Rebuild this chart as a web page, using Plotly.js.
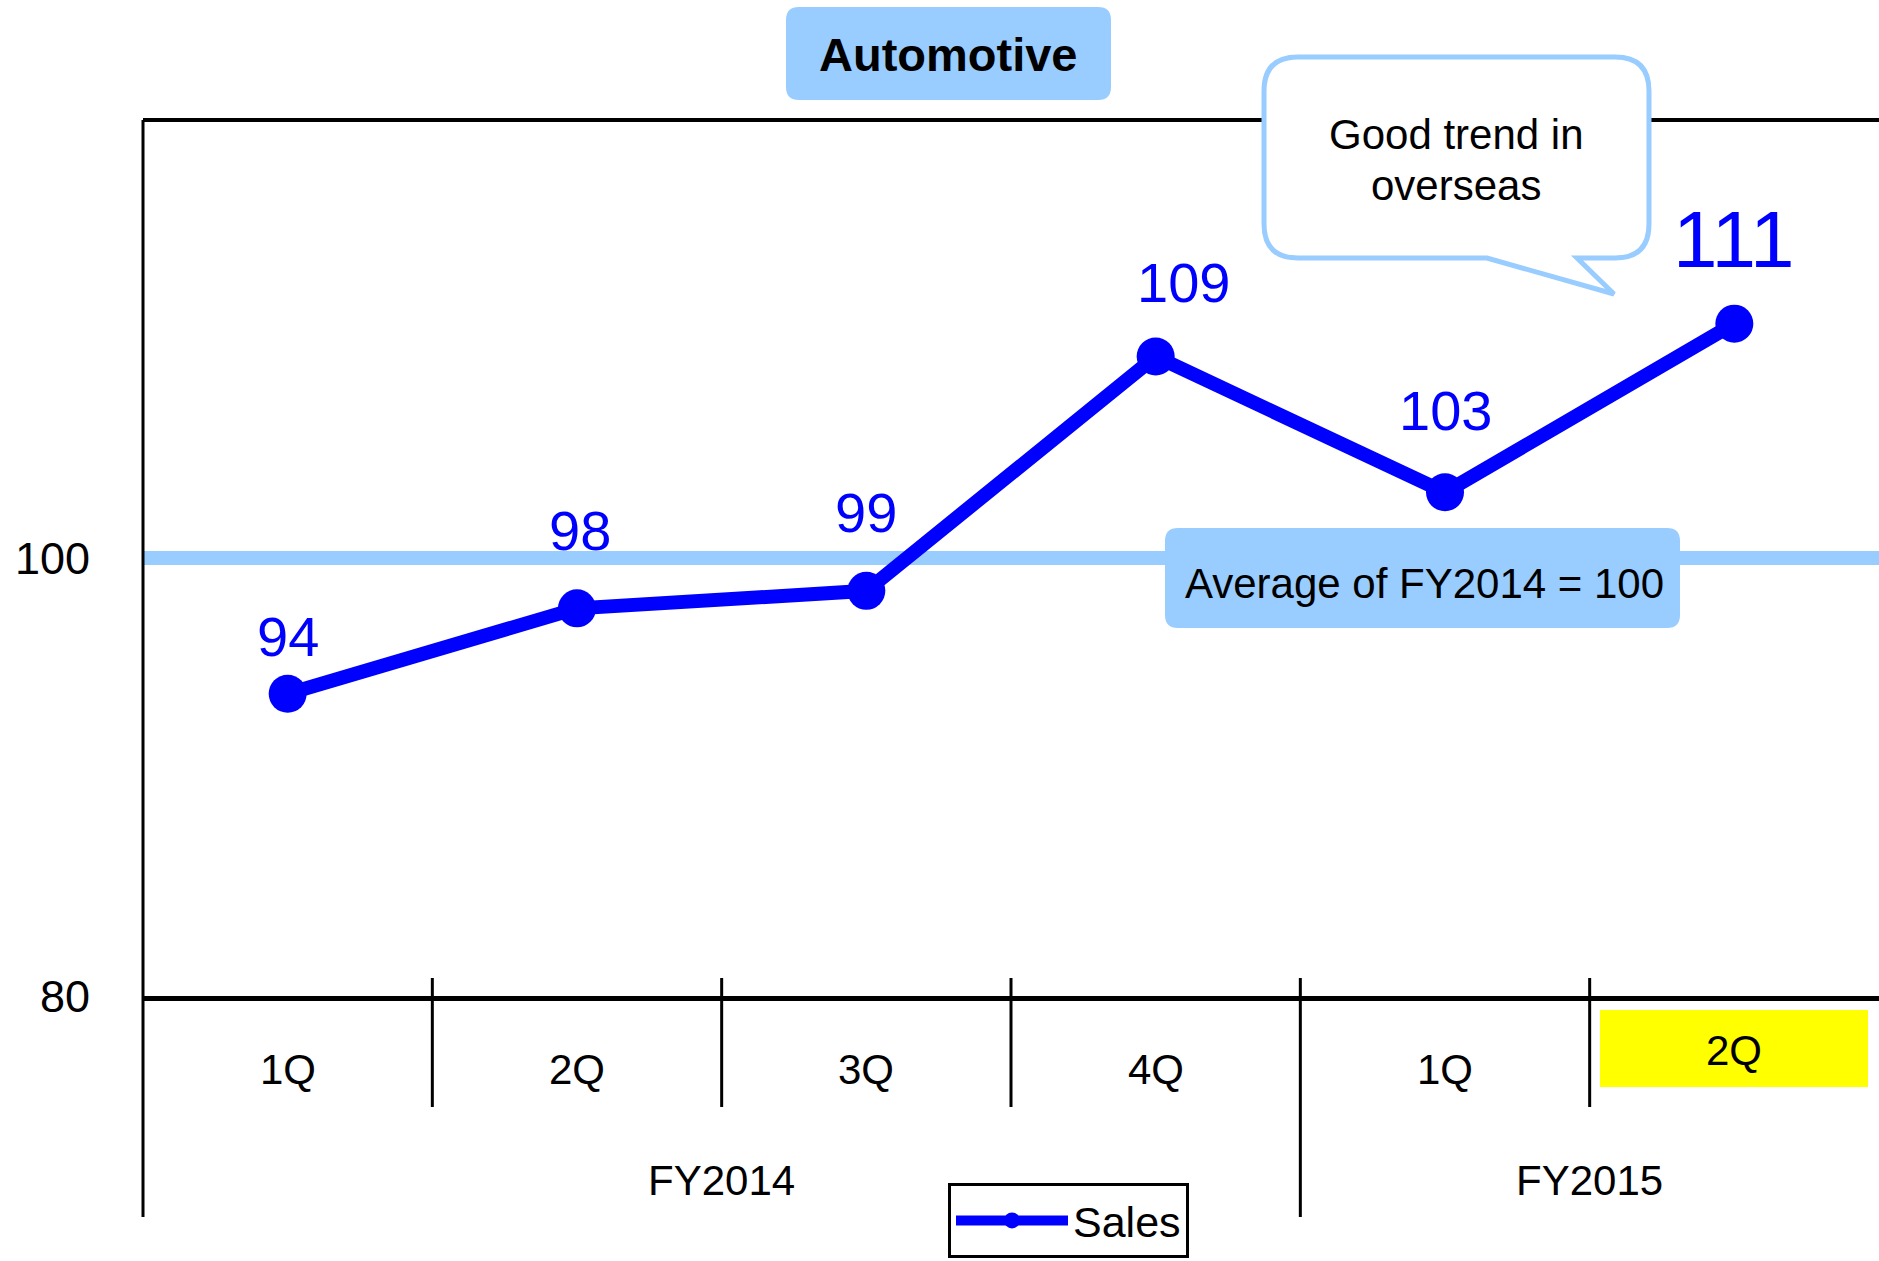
<!DOCTYPE html>
<html>
<head>
<meta charset="utf-8">
<script src="https://cdn.plot.ly/plotly-3.0.1.min.js"></script>
<style>
  html, body { margin: 0; padding: 0; background: #fff; }
  #chart { width: 1879px; height: 1261px; }
</style>
</head>
<body>
<div id="chart"></div>
<script>
const quarters = ['1Q', '2Q', '3Q', '4Q', '1Q', '2Q'];
const fiscalYears = ['FY2014', 'FY2015'];
const yearFirstQuarter = [0, 4];
const yearLastQuarter = [3, 5];
const sales = [93.8, 97.7, 98.5, 109.2, 103.0, 110.7];
const salesLabels = ['94', '98', '99', '109', '103', '111'];
const baseline = 100;
const highlightIndex = 5;
const yTicks = [80, 100];

const W = 1879, H = 1261;
const M = { l: 143, r: 0, t: 120, b: 265 };
const PW = W - M.l - M.r;
const PH = H - M.t - M.b;
const FONT = 'Liberation Sans, Arial, sans-serif';
const LIGHT = '#99ccff';
const BLUE = '#0000ff';

// label nudges in px (style only)
const labelLift = [57, 78, 78, 74, 82, 84];
const labelSide = [0, 3, 0, 28, 0, 0];

// pixel -> paper helpers
function px(X) { return (X - M.l) / PW; }
function py(Y) { return (M.t + PH - Y) / PH; }
function pt(X, Y) { return px(X).toFixed(5) + ',' + py(Y).toFixed(5); }

function roundRect(x0, y0, x1, y1, r) {
    return 'M' + pt(x0 + r, y0) + ' L' + pt(x1 - r, y0) + ' Q' + pt(x1, y0) + ' ' + pt(x1, y0 + r) +
        ' L' + pt(x1, y1 - r) + ' Q' + pt(x1, y1) + ' ' + pt(x1 - r, y1) +
        ' L' + pt(x0 + r, y1) + ' Q' + pt(x0, y1) + ' ' + pt(x0, y1 - r) +
        ' L' + pt(x0, y0 + r) + ' Q' + pt(x0, y0) + ' ' + pt(x0 + r, y0) + ' Z';
}

function bubble(x0, y0, x1, y1, r, tailR, tipX, tipY, tailL) {
    return 'M' + pt(x0 + r, y0) + ' L' + pt(x1 - r, y0) + ' Q' + pt(x1, y0) + ' ' + pt(x1, y0 + r) +
        ' L' + pt(x1, y1 - r) + ' Q' + pt(x1, y1) + ' ' + pt(x1 - r, y1) +
        ' L' + pt(tailR, y1) + ' L' + pt(tipX, tipY) + ' L' + pt(tailL, y1) +
        ' L' + pt(x0 + r, y1) + ' Q' + pt(x0, y1) + ' ' + pt(x0, y1 - r) +
        ' L' + pt(x0, y0 + r) + ' Q' + pt(x0, y0) + ' ' + pt(x0 + r, y0) + ' Z';
}

function label(X, Y, text, size, extra) {
    return Object.assign({ xref: 'paper', yref: 'paper', x: px(X), y: py(Y), text: text, showarrow: false,
        xanchor: 'center', yanchor: 'middle', font: { family: FONT, size: size, color: 'black' } }, extra || {});
}

const xIdx = quarters.map((_, i) => i);

const trace = {
    x: xIdx,
    y: sales,
    mode: 'lines+markers',
    name: 'Sales',
    line: { color: BLUE, width: 14 },
    marker: { color: BLUE, size: 38 },
    cliponaxis: false,
    hoverinfo: 'skip'
};

const shapes = [];

// average line + its label box
shapes.push({ type: 'line', layer: 'below', xref: 'paper', yref: 'y', x0: 0, x1: 1, y0: baseline, y1: baseline,
    line: { color: LIGHT, width: 14 } });
shapes.push({ type: 'path', layer: 'below', xref: 'paper', yref: 'paper', path: roundRect(1165, 528, 1680, 628, 13),
    fillcolor: LIGHT, line: { width: 0 } });

// frame
shapes.push({ type: 'line', xref: 'paper', yref: 'paper', x0: 0, x1: 1, y0: 1, y1: 1, line: { color: 'black', width: 4 } });
shapes.push({ type: 'line', xref: 'paper', yref: 'paper', x0: 0, x1: 0, y0: 1, y1: py(1217), line: { color: 'black', width: 3 } });

// category dividers
for (let i = 0; i < quarters.length - 1; i++) {
    const groupEdge = yearLastQuarter.indexOf(i) !== -1;
    shapes.push({ type: 'line', xref: 'x', yref: 'paper', x0: i + 0.5, x1: i + 0.5,
        y0: py(978), y1: groupEdge ? py(1217) : py(1107), line: { color: 'black', width: 3 } });
}

// highlighted quarter
shapes.push({ type: 'rect', xref: 'paper', yref: 'paper', x0: px(1600), x1: px(1868), y0: py(1010), y1: py(1087),
    fillcolor: '#ffff00', line: { width: 0 } });

// title box
shapes.push({ type: 'path', xref: 'paper', yref: 'paper', path: roundRect(786, 7, 1111, 100, 13),
    fillcolor: LIGHT, line: { width: 0 } });

// callout bubble
shapes.push({ type: 'path', xref: 'paper', yref: 'paper',
    path: bubble(1264, 57, 1649, 258, 34, 1577, 1614, 294, 1487),
    fillcolor: 'white', line: { color: LIGHT, width: 5 } });

const annotations = [];

annotations.push(label(948, 55, '<b>Automotive</b>', 47));
annotations.push(label(1456, 134, 'Good trend in', 42));
annotations.push(label(1456, 185, 'overseas', 42));
annotations.push(label(1424, 583, 'Average of FY2014 = ' + baseline, 42));

// data labels
sales.forEach((v, i) => {
    const big = i === sales.length - 1;
    annotations.push({ xref: 'x', yref: 'y', x: i, y: v, text: salesLabels[i], showarrow: false,
        xanchor: 'center', yanchor: 'middle', yshift: labelLift[i], xshift: labelSide[i],
        font: { family: FONT, size: big ? 80 : 56, color: BLUE } });
});

// quarter labels
quarters.forEach((q, i) => {
    annotations.push({ xref: 'x', yref: 'paper', x: i, y: py(i === highlightIndex ? 1050 : 1069), text: q, showarrow: false,
        xanchor: 'center', yanchor: 'middle', font: { family: FONT, size: 42, color: 'black' } });
});

// fiscal year labels
fiscalYears.forEach((fy, k) => {
    annotations.push({ xref: 'x', yref: 'paper', x: (yearFirstQuarter[k] + yearLastQuarter[k]) / 2, y: py(1180), text: fy,
        showarrow: false, xanchor: 'center', yanchor: 'middle', font: { family: FONT, size: 42, color: 'black' } });
});

const layout = {
    width: W,
    height: H,
    margin: { l: M.l, r: M.r, t: M.t, b: M.b, autoexpand: false },
    paper_bgcolor: 'white',
    plot_bgcolor: 'white',
    font: { family: FONT, color: 'black' },
    xaxis: {
        range: [-0.5, quarters.length - 0.5],
        showticklabels: false,
        showgrid: false,
        zeroline: false,
        ticks: '',
        showline: true,
        linecolor: 'black',
        linewidth: 5
    },
    yaxis: {
        range: [80, 120],
        tickvals: yTicks,
        ticktext: yTicks.map(String),
        tickfont: { family: FONT, size: 45, color: 'black' },
        ticks: '',
        ticklabelstandoff: 52,
        showgrid: false,
        zeroline: false,
        showline: false
    },
    showlegend: true,
    legend: {
        x: px(948), y: py(1183), xanchor: 'left', yanchor: 'top',
        bgcolor: 'white', bordercolor: 'black', borderwidth: 3,
        itemwidth: 112,
        font: { family: FONT, size: 43, color: 'black' }
    },
    shapes: shapes,
    annotations: annotations
};

Plotly.newPlot('chart', [trace], layout, { staticPlot: true });
</script>
</body>
</html>
